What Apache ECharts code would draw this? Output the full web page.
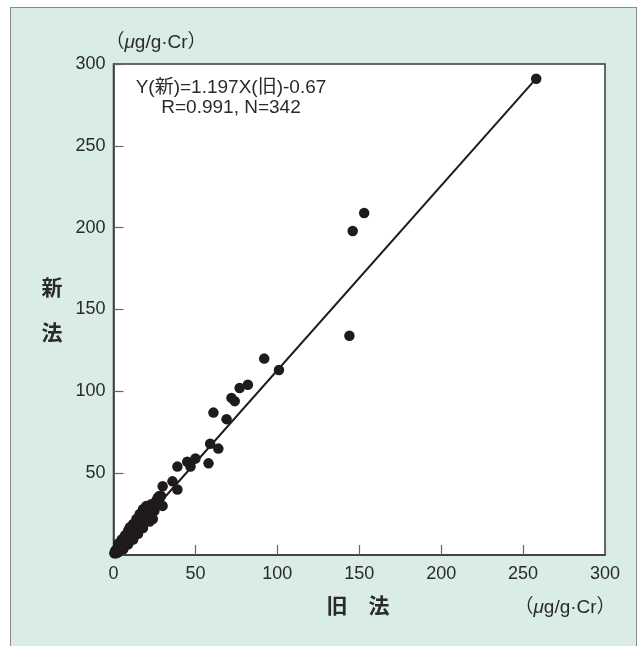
<!DOCTYPE html>
<html>
<head>
<meta charset="utf-8">
<script src="https://cdn.jsdelivr.net/npm/echarts@6/dist/echarts.min.js"></script>
<style>
  body { margin: 0; background: #fff; }
  #frame { position: absolute; left: 10px; top: 7px; width: 627px; height: 700px;
           background: #d9ede6; border: 1.5px solid #8a8a8a; box-sizing: border-box; }
  #chart { position: absolute; left: 0; top: 0; width: 641px; height: 646px; }
</style>
</head>
<body>
<div id="frame"></div>
<div id="chart"></div>
<script>
// 旧法 (x) / 新法 (y), µg/g·Cr
var oldVals = [258, 153, 146, 144, 92, 101, 82, 77, 72, 74, 61, 69, 59, 64, 58, 50, 47, 45, 39, 39, 36, 30, 30, 28,
  0.5, 1, 1, 1.5, 1.5, 2, 2, 2.5, 2.5, 3, 3, 3, 3.5, 3.5, 4, 4, 4, 4.5, 5, 5, 5, 5.5, 6, 6, 6, 6.5,
  7, 7, 7, 7.5, 8, 8, 8, 8.5, 9, 9, 9, 9.5, 10, 10, 10, 10.5, 11, 11, 11, 11.5, 12, 12, 12, 12.5,
  13, 13, 13, 13.5, 14, 14, 14, 14.5, 15, 15, 15, 15.5, 16, 16, 16, 16.5, 17, 17, 17, 17.5,
  18, 18, 18, 18.5, 19, 19, 19, 19.5, 20, 20, 20, 20.5, 21, 21, 21, 22, 22, 22, 23, 23, 23,
  24, 24, 24, 25, 25, 26, 26, 27, 27, 28, 29,
  3, 5, 7, 9, 10, 12, 14, 16, 18, 20, 6, 9, 12, 15, 18, 22];
var newVals = [291, 209, 198, 134, 120, 113, 104, 102, 96, 94, 87, 83, 68, 65, 56, 59, 54, 57, 54, 40, 45, 42, 30, 36,
  1, 1.5, 2.5, 1, 3, 2, 3.5, 1.5, 4, 3, 2, 5, 4, 2.5, 4.5, 6, 3, 5, 6, 4, 7.5, 5.5, 7, 5, 8.5, 6.5,
  8, 9.5, 6, 7.5, 9, 11, 7, 10, 10, 12.5, 8, 11, 12, 14, 9.5, 13, 12, 15.5, 11, 14, 13.5, 17, 11.5, 15,
  15, 18.5, 12, 16, 17, 20, 13.5, 18, 18, 21, 15, 19.5, 19, 22, 16, 20, 20, 23.5, 17.5, 22,
  22, 25, 19, 23.5, 23, 27, 20.5, 25, 24, 28, 21, 26, 25, 29, 22.5, 26, 29.5, 23, 27, 31, 24.5,
  28, 22, 30.5, 30, 27, 31, 33, 32, 35, 34, 36,
  7, 9.5, 12, 15, 17, 19, 22, 25, 28, 30, 3.5, 6.5, 9.5, 13, 16.5, 20.5];
// drawn regression line end points
var fitX = [0, 257];
var fitY = [0, 290];
var xTicks = [0, 50, 100, 150, 200, 250, 300];

var points = oldVals.map(function (x, i) { return [x, newVals[i]]; });
var fitLine = fitX.map(function (x, i) { return [x, fitY[i]]; });

var chart = echarts.init(document.getElementById('chart'));
var ink = '#1f1b1c';
var latin = 'Liberation Sans, Arial, sans-serif';
var mixed = '"Liberation Sans", "Noto Sans CJK JP", sans-serif';
var cjk = '"Noto Sans CJK JP"';

function axisCfg(hideZero) {
  return {
    type: 'value', min: xTicks[0], max: xTicks[xTicks.length - 1], interval: 50,
    axisLine: { show: true, lineStyle: { color: '#3a3a3a', width: 1.5 } },
    axisTick: { show: true, inside: true, length: 10, lineStyle: { color: '#666', width: 1.2 } },
    splitLine: { show: false },
    axisLabel: {
      fontSize: 18, color: '#2a2a2a', fontFamily: latin, margin: hideZero ? 8 : 10,
      formatter: function (v) { return (hideZero && v === 0) ? '' : v; }
    }
  };
}

var unitStyle = {
  text: '（{m|μ}g/g·Cr）', align: 'center', verticalAlign: 'middle',
  font: '19px ' + mixed, fill: '#2a2a2a',
  rich: { m: { fontFamily: mixed, fontStyle: 'italic', fontSize: 19, color: '#2a2a2a' } }
};

var option = {
  animation: false,
  grid: { left: 113.5, right: 36, top: 64, bottom: 91, show: true,
          backgroundColor: '#fff', borderColor: '#3a3a3a', borderWidth: 1.5 },
  xAxis: axisCfg(false),
  yAxis: axisCfg(true),
  series: [
    { type: 'line', data: fitLine, showSymbol: false, z: 2,
      lineStyle: { color: ink, width: 2 } },
    { type: 'scatter', data: points, symbolSize: 10.5, z: 3,
      itemStyle: { color: ink, opacity: 1 } }
  ],
  graphic: [
    { type: 'text', x: 156, y: 43, style: unitStyle },
    { type: 'text', x: 565, y: 608, style: unitStyle },
    { type: 'text', x: 231, y: 78,
      style: { text: 'Y(新)=1.197X(旧)-0.67\nR=0.991, N=342', align: 'center',
               font: '19px ' + mixed, fill: '#2a2a2a', lineHeight: 20 } },
    { type: 'text', x: 52, y: 287,
      style: { text: '新', align: 'center', verticalAlign: 'middle',
               font: 'bold 21px ' + cjk, fill: '#2a2a2a' } },
    { type: 'text', x: 52, y: 332,
      style: { text: '法', align: 'center', verticalAlign: 'middle',
               font: 'bold 21px ' + cjk, fill: '#2a2a2a' } },
    { type: 'text', x: 358, y: 605,
      style: { text: '旧　法', align: 'center', verticalAlign: 'middle',
               font: 'bold 21px ' + cjk, fill: '#2a2a2a' } }
  ]
};
chart.setOption(option);
window.addEventListener('resize', function () { chart.resize(); });
</script>
</body>
</html>
